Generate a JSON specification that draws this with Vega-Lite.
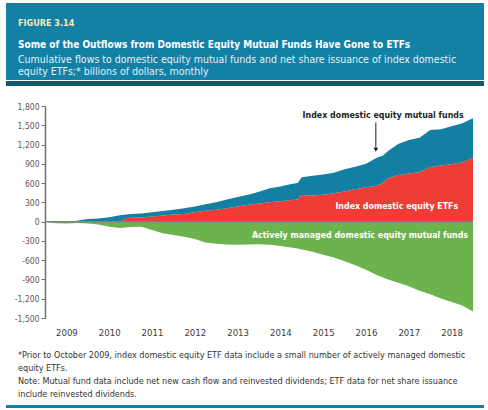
{
  "$schema": "https://vega.github.io/schema/vega-lite/v6.json",
  "padding": {"left": 6, "top": 3, "right": 4, "bottom": 0},
  "autosize": {"type": "pad"},
  "background": "white",
  "spacing": 15,
  "config": {
    "view": {"stroke": null},
    "font": "DejaVu Sans Condensed, DejaVu Sans, sans-serif"
  },
  "vconcat": [
    {
      "spacing": 0,
      "vconcat": [
        {
          "data": {"values": [{}]},
          "mark": {"type": "point", "opacity": 0},
          "width": 478,
          "height": 27,
          "view": {"fill": "#1381a6", "stroke": null},
          "title": {
            "text": "FIGURE 3.14",
            "anchor": "start",
            "frame": "group",
            "dx": 12,
            "offset": -25,
            "fontSize": 9,
            "fontWeight": "bold",
            "color": "#f6e8b8"
          }
        },
        {
          "data": {"values": [{}]},
          "mark": {"type": "point", "opacity": 0},
          "width": 478,
          "height": 50,
          "view": {"fill": "#1381a6", "stroke": null},
          "title": {
            "text": "Some of the Outflows from Domestic Equity Mutual Funds Have Gone to ETFs",
            "subtitle": [
              "Cumulative flows to domestic equity mutual funds and net share issuance of index domestic",
              "equity ETFs;* billions of dollars, monthly"
            ],
            "anchor": "start",
            "frame": "group",
            "dx": 12,
            "offset": -48,
            "fontSize": 10,
            "fontWeight": "bold",
            "color": "#ffffff",
            "subtitleFontSize": 10.5,
            "subtitleColor": "#e6f0f4",
            "subtitlePadding": 5,
            "subtitleLineHeight": 12.7
          }
        },
        {
          "data": {"values": [{}]},
          "mark": {"type": "point", "opacity": 0},
          "width": 478,
          "height": 5,
          "view": {"fill": "#0e5a6e", "stroke": null}
        }
      ]
    },
    {
      "spacing": 4,
      "vconcat": [
        {
          "width": 478,
          "height": 212,
          "title": {
            "text": [
              "*Prior to October 2009, index domestic equity ETF data include a small number of actively managed domestic",
              "\u00a0equity ETFs.",
              "\u00a0Note: Mutual fund data include net new cash flow and reinvested dividends; ETF data for net share issuance",
              "\u00a0include reinvested dividends."
            ],
            "orient": "bottom",
            "anchor": "start",
            "frame": "group",
            "dx": 12,
            "offset": 14,
            "fontSize": 9,
            "fontWeight": "normal",
            "color": "#333333",
            "lineHeight": 13
          },
          "layer": [
            {
              "data": {
                "values": [
                  {"t": 2009.0, "etf": 0, "idx": 0, "act": 0},
                  {"t": 2009.25, "etf": 0, "idx": 0, "act": -25},
                  {"t": 2009.5, "etf": 0, "idx": 0, "act": -28},
                  {"t": 2009.75, "etf": 0, "idx": 15, "act": -22},
                  {"t": 2010.0, "etf": 0, "idx": 40, "act": -30},
                  {"t": 2010.25, "etf": 0, "idx": 50, "act": -45},
                  {"t": 2010.5, "etf": 0, "idx": 70, "act": -80},
                  {"t": 2010.75, "etf": 0, "idx": 100, "act": -100},
                  {"t": 2010.9, "etf": 55, "idx": 55, "act": -90},
                  {"t": 2011.0, "etf": 60, "idx": 60, "act": -85},
                  {"t": 2011.25, "etf": 65, "idx": 63, "act": -80},
                  {"t": 2011.5, "etf": 80, "idx": 68, "act": -130},
                  {"t": 2011.75, "etf": 95, "idx": 70, "act": -180},
                  {"t": 2012.0, "etf": 110, "idx": 75, "act": -207},
                  {"t": 2012.25, "etf": 120, "idx": 90, "act": -235},
                  {"t": 2012.5, "etf": 145, "idx": 90, "act": -270},
                  {"t": 2012.75, "etf": 170, "idx": 100, "act": -325},
                  {"t": 2013.0, "etf": 185, "idx": 115, "act": -345},
                  {"t": 2013.25, "etf": 210, "idx": 135, "act": -355},
                  {"t": 2013.5, "etf": 235, "idx": 150, "act": -360},
                  {"t": 2013.75, "etf": 262, "idx": 158, "act": -355},
                  {"t": 2014.0, "etf": 282, "idx": 183, "act": -352},
                  {"t": 2014.25, "etf": 300, "idx": 220, "act": -358},
                  {"t": 2014.5, "etf": 318, "idx": 230, "act": -378},
                  {"t": 2014.75, "etf": 335, "idx": 250, "act": -402},
                  {"t": 2014.9, "etf": 345, "idx": 255, "act": -420},
                  {"t": 2015.0, "etf": 415, "idx": 275, "act": -435},
                  {"t": 2015.25, "etf": 405, "idx": 310, "act": -470},
                  {"t": 2015.5, "etf": 420, "idx": 315, "act": -514},
                  {"t": 2015.75, "etf": 440, "idx": 320, "act": -560},
                  {"t": 2016.0, "etf": 470, "idx": 345, "act": -615},
                  {"t": 2016.25, "etf": 505, "idx": 350, "act": -680},
                  {"t": 2016.5, "etf": 535, "idx": 365, "act": -750},
                  {"t": 2016.75, "etf": 560, "idx": 435, "act": -830},
                  {"t": 2016.9, "etf": 600, "idx": 430, "act": -870},
                  {"t": 2017.0, "etf": 670, "idx": 420, "act": -895},
                  {"t": 2017.25, "etf": 725, "idx": 485, "act": -950},
                  {"t": 2017.5, "etf": 750, "idx": 520, "act": -1005},
                  {"t": 2017.75, "etf": 770, "idx": 535, "act": -1075},
                  {"t": 2018.0, "etf": 850, "idx": 575, "act": -1130},
                  {"t": 2018.25, "etf": 875, "idx": 565, "act": -1195},
                  {"t": 2018.5, "etf": 895, "idx": 590, "act": -1250},
                  {"t": 2018.75, "etf": 925, "idx": 605, "act": -1305},
                  {"t": 2019.0, "etf": 992, "idx": 618, "act": -1400}
                ]
              },
              "transform": [{"fold": ["etf", "idx", "act"], "as": ["s", "v"]}],
              "mark": {"type": "area", "interpolate": "linear"},
              "encoding": {
                "x": {
                  "field": "t",
                  "type": "quantitative",
                  "scale": {"domain": [2008.089, 2019.257], "nice": false, "zero": false},
                  "axis": {
                    "values": [2009.5, 2010.5, 2011.5, 2012.5, 2013.5, 2014.5, 2015.5, 2016.5, 2017.5, 2018.5],
                    "tickCount": 20,
                    "labelExpr": "'' + floor(datum.value)",
                    "title": null,
                    "domain": false,
                    "ticks": false,
                    "grid": false,
                    "labelFontSize": 9.5,
                    "labelColor": "#3a3a3a",
                    "labelPadding": 9
                  }
                },
                "y": {
                  "field": "v",
                  "type": "quantitative",
                  "stack": "zero",
                  "scale": {"domain": [-1500, 1800], "nice": false},
                  "axis": {
                    "values": [-1500, -1200, -900, -600, -300, 0, 300, 600, 900, 1200, 1500, 1800],
                    "tickCount": 20,
                    "labelExpr": "replace(format(datum.value, ',d'), '\u2212', '-')",
                    "labelOverlap": false,
                    "labelFlush": false,
                    "offset": -39,
                    "title": null,
                    "grid": false,
                    "domainColor": "#6d6e71",
                    "domainWidth": 1.5,
                    "tickColor": "#6d6e71",
                    "tickSize": 4,
                    "labelFontSize": 8.5,
                    "labelColor": "#58595b",
                    "labelPadding": 2
                  }
                },
                "color": {
                  "field": "s",
                  "type": "nominal",
                  "scale": {"domain": ["act", "etf", "idx"], "range": ["#6cb34d", "#ee3d37", "#1380a3"]},
                  "legend": null
                },
                "order": {"field": "s", "sort": "ascending"}
              }
            },
            {
              "data": {"values": [{"a": 2009, "b": 2019}]},
              "mark": {"type": "rule", "color": "#808285", "strokeWidth": 1.5},
              "encoding": {
                "x": {"field": "a", "type": "quantitative"},
                "x2": {"field": "b"},
                "y": {"datum": 0}
              }
            },
            {
              "data": {"values": [{"t": 2016.73, "top": 1545, "bot": 1120}]},
              "mark": {"type": "rule", "color": "#231f20", "strokeWidth": 1},
              "encoding": {
                "x": {"field": "t", "type": "quantitative"},
                "y": {"field": "top", "type": "quantitative"},
                "y2": {"field": "bot"}
              }
            },
            {
              "data": {"values": [{"t": 2016.73, "v": 1120}]},
              "mark": {"type": "point", "shape": "triangle-down", "filled": true, "size": 22, "color": "#231f20", "opacity": 1},
              "encoding": {
                "x": {"field": "t", "type": "quantitative"},
                "y": {"field": "v", "type": "quantitative"}
              }
            },
            {
              "data": {"values": [{"t": 2016.9, "v": 1661, "label": "Index domestic equity mutual funds"}]},
              "mark": {"type": "text", "fontSize": 8.8, "fontWeight": "bold", "color": "#231f20", "align": "center", "baseline": "middle"},
              "encoding": {
                "x": {"field": "t", "type": "quantitative"},
                "y": {"field": "v", "type": "quantitative"},
                "text": {"field": "label"}
              }
            },
            {
              "data": {"values": [
                {"t": 2017.22, "v": 249, "label": "Index domestic equity ETFs"},
                {"t": 2016.36, "v": -202, "label": "Actively managed domestic equity mutual funds"}
              ]},
              "mark": {"type": "text", "fontSize": 8.8, "fontWeight": "bold", "color": "#ffffff", "align": "center", "baseline": "middle"},
              "encoding": {
                "x": {"field": "t", "type": "quantitative"},
                "y": {"field": "v", "type": "quantitative"},
                "text": {"field": "label"}
              }
            }
          ]
        },
        {
          "data": {"values": [{}]},
          "mark": {"type": "point", "opacity": 0},
          "width": 478,
          "height": 3,
          "view": {"fill": "#1381a6", "stroke": null}
        }
      ]
    }
  ]
}
